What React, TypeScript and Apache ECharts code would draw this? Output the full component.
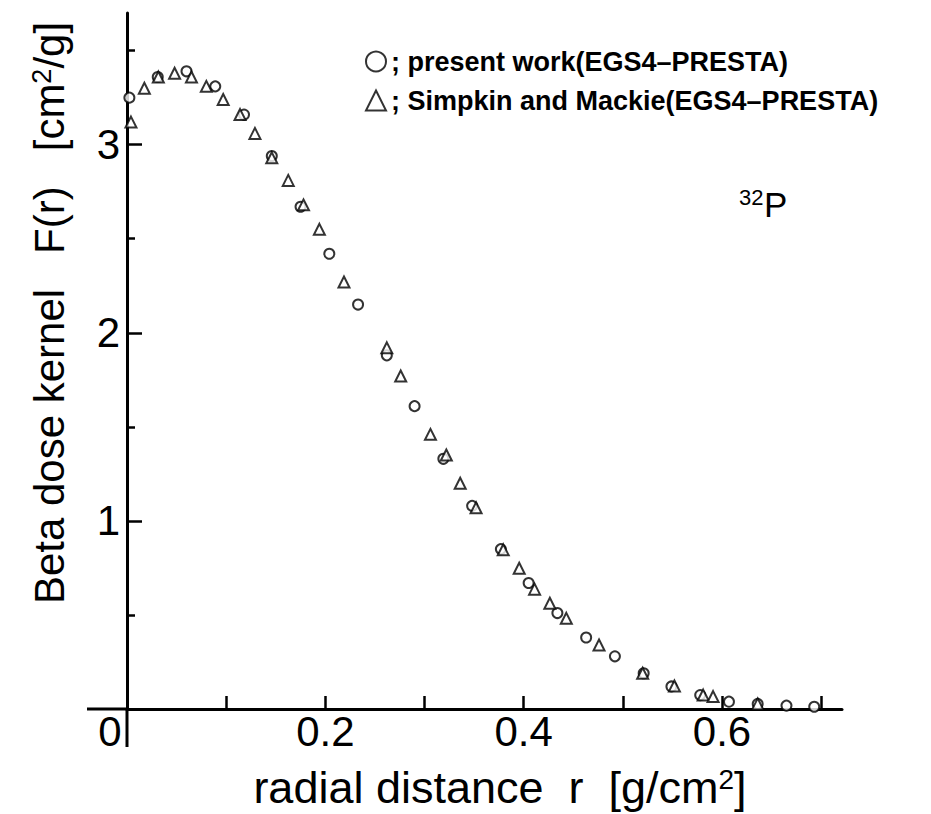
import React, { useEffect, useRef } from 'react';
import * as echarts from 'echarts';

// present work (EGS4-PRESTA) – circles
const presentR = [0.0024, 0.031, 0.060, 0.089, 0.118, 0.146, 0.175, 0.204, 0.233, 0.262, 0.290, 0.319, 0.348, 0.377, 0.405, 0.434, 0.463, 0.492, 0.521, 0.549, 0.578, 0.607, 0.636, 0.665, 0.693];
const presentF = [3.25, 3.36, 3.39, 3.31, 3.16, 2.94, 2.67, 2.42, 2.15, 1.88, 1.61, 1.33, 1.08, 0.85, 0.67, 0.51, 0.38, 0.28, 0.19, 0.12, 0.074, 0.039, 0.027, 0.018, 0.012];

// Simpkin and Mackie (EGS4-PRESTA) – triangles
const simpkinR = [0.004, 0.0175, 0.0316, 0.048, 0.065, 0.080, 0.097, 0.114, 0.129, 0.146, 0.1626, 0.178, 0.194, 0.2188, 0.262, 0.276, 0.306, 0.322, 0.336, 0.352, 0.3794, 0.3955, 0.411, 0.4264, 0.443, 0.476, 0.520, 0.552, 0.581, 0.591, 0.636];
const simpkinF = [3.12, 3.30, 3.36, 3.38, 3.36, 3.31, 3.24, 3.16, 3.06, 2.93, 2.81, 2.68, 2.55, 2.27, 1.92, 1.77, 1.46, 1.35, 1.20, 1.07, 0.846, 0.748, 0.637, 0.562, 0.482, 0.340, 0.19, 0.122, 0.074, 0.066, 0.027];

const xTickValues = [0.1, 0.2, 0.3, 0.4, 0.5, 0.6, 0.7];
const xLabelValues = [0, 0.2, 0.4, 0.6];
const yMajorValues = [1, 2, 3];
const yMinorValues = [0.5, 1.5, 2.5, 3.5];

const seriesNames = ['present work(EGS4\u2013PRESTA)', 'Simpkin and Mackie(EGS4\u2013PRESTA)'];

const FONT = '"Liberation Sans", Arial, Helvetica, sans-serif';

export default function App() {
  const ref = useRef<HTMLDivElement>(null);

  useEffect(() => {
    if (!ref.current) return;
    const chart = echarts.init(ref.current, null, { renderer: 'svg' });

    const presentData = presentR.map((r, i) => [r, presentF[i]]);
    const simpkinData = simpkinR.map((r, i) => [r, simpkinF[i]]);

    const option: any = {
      animation: false,
      backgroundColor: '#fff',
      textStyle: { fontFamily: FONT, color: '#000' },
      grid: { left: 127, right: 89, top: 13, bottom: 105, containLabel: false, outerBoundsMode: 'none' },
      legend: {
        orient: 'vertical',
        left: 360,
        top: 43,
        itemWidth: 20,
        itemHeight: 20,
        itemGap: 12,
        selectedMode: false,
        formatter: (name: string) => '; ' + name,
        textStyle: { fontSize: 27, fontWeight: 'bold', color: '#000', fontFamily: FONT },
        data: [
          { name: seriesNames[0], icon: 'circle', itemStyle: { color: '#fff', borderColor: '#000', borderWidth: 2 } },
          { name: seriesNames[1], icon: 'triangle', itemStyle: { color: '#fff', borderColor: '#000', borderWidth: 2 } },
        ],
      },
      xAxis: {
        type: 'value',
        min: 0,
        max: 0.721,
        splitLine: { show: false },
        axisLine: { onZero: false, lineStyle: { color: '#000', width: 3 } },
        axisTick: { show: true, inside: true, length: 13, customValues: xTickValues, lineStyle: { color: '#000', width: 2.5 } },
        axisLabel: {
          customValues: xLabelValues,
          margin: 1,
          fontSize: 42,
          color: '#000',
          fontFamily: FONT,
          formatter: (v: number) => (v === 0 ? '{z|0}' : String(v)),
          rich: { z: { fontSize: 42, fontFamily: FONT, color: '#000', padding: [0, 34, 0, 0] } },
        },
        name: 'radial distance  r  [g/cm{sup|2}]',
        nameLocation: 'middle',
        nameGap: 56,
        nameTextStyle: {
          fontSize: 45,
          color: '#000',
          fontFamily: FONT,
          padding: [0, 0, 0, 31],
          rich: { sup: { fontSize: 28, fontFamily: FONT, color: '#000', verticalAlign: 'top' } },
        },
      },
      yAxis: [
        {
          type: 'value',
          min: 0,
          max: 3.7,
          position: 'left',
          splitLine: { show: false },
          axisLine: { onZero: false, lineStyle: { color: '#000', width: 3 } },
          axisTick: { show: true, inside: true, length: 15, customValues: yMajorValues, lineStyle: { color: '#000', width: 2.5 } },
          axisLabel: { customValues: yMajorValues, margin: 7, fontSize: 42, color: '#000', fontFamily: FONT },
          name: 'Beta dose kernel   F(r)   [cm{sup|2}/g]',
          nameLocation: 'middle',
          nameGap: 57,
          nameTextStyle: {
            fontSize: 42,
            color: '#000',
            fontFamily: FONT,
            padding: [0, 0, 0, 96],
            rich: { sup: { fontSize: 27, fontFamily: FONT, color: '#000', verticalAlign: 'top' } },
          },
        },
        {
          type: 'value',
          min: 0,
          max: 3.7,
          position: 'left',
          splitLine: { show: false },
          axisLine: { show: false, onZero: false },
          axisTick: { show: true, inside: true, length: 8, customValues: yMinorValues, lineStyle: { color: '#000', width: 2.5 } },
          axisLabel: { show: false },
        },
      ],
      series: [
        {
          name: seriesNames[0],
          type: 'scatter',
          symbol: 'emptyCircle',
          symbolSize: 10,
          clip: false,
          itemStyle: { color: '#000', borderColor: '#000', borderWidth: 2.5 },
          data: presentData,
          z: 3,
        },
        {
          name: seriesNames[1],
          type: 'scatter',
          symbol: 'emptyTriangle',
          symbolSize: 11,
          clip: false,
          itemStyle: { color: '#000', borderColor: '#000', borderWidth: 2.5 },
          data: simpkinData,
          z: 4,
        },
      ],
    };

    chart.setOption(option);

    // axis-line extensions beyond the origin, placed through the axes' own scales
    const origin = chart.convertToPixel({ gridIndex: 0 }, [0, 0]) as number[];
    chart.setOption({
      graphic: [
        { type: 'line', shape: { x1: origin[0] - 40, y1: origin[1], x2: origin[0], y2: origin[1] }, style: { stroke: '#000', lineWidth: 3 } },
        { type: 'line', shape: { x1: origin[0], y1: origin[1], x2: origin[0], y2: origin[1] + 38 }, style: { stroke: '#000', lineWidth: 3 } },
        { type: 'text', left: 739, top: 186, style: { text: '32', fontSize: 22, fontFamily: FONT, fill: '#000' } },
        { type: 'text', left: 764, top: 187, style: { text: 'P', fontSize: 35, fontFamily: FONT, fill: '#000' } },
      ],
    });

    return () => chart.dispose();
  }, []);

  return (
    <div
      ref={ref}
      style={{ position: 'absolute', left: 0, top: 0, width: 931, height: 814, background: '#fff' }}
    />
  );
}
